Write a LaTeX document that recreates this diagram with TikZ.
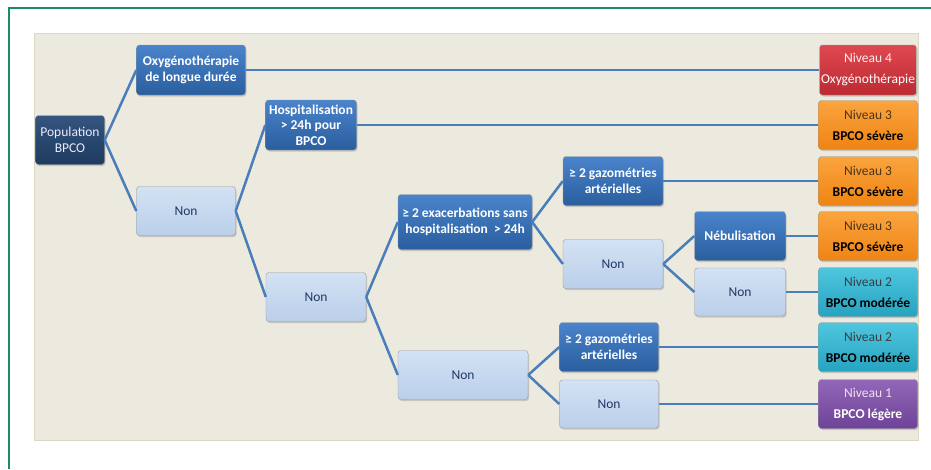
\documentclass[tikz,border=0pt]{standalone}
\usepackage{fontspec}
\setmainfont{Carlito}
\usepackage{xcolor}
\usetikzlibrary{shadows}

\definecolor{framegreen}{HTML}{1B8A6B}
\definecolor{panelbg}{HTML}{ECE9DE}
\definecolor{panelline}{HTML}{DDD8C4}
\definecolor{linkblue}{HTML}{4A7EBB}
\definecolor{nontext}{HTML}{1F3864}
\definecolor{poptop}{HTML}{33557F}
\definecolor{popbot}{HTML}{1F3B5F}
\definecolor{asktop}{HTML}{4A84CC}
\definecolor{askbot}{HTML}{2A5E9E}
\definecolor{nontop}{HTML}{D3E2F4}
\definecolor{nonbot}{HTML}{BACFEA}
\definecolor{redtop}{HTML}{E04850}
\definecolor{redbot}{HTML}{BC2A32}
\definecolor{orgtop}{HTML}{FBA43E}
\definecolor{orgbot}{HTML}{EE8414}
\definecolor{cyntop}{HTML}{4FC6DF}
\definecolor{cynbot}{HTML}{26A3C0}
\definecolor{purtop}{HTML}{9266B8}
\definecolor{purbot}{HTML}{6E4296}

\begin{document}
\begin{tikzpicture}[x=1pt, y=-1pt,
    box/.style={rectangle, rounded corners=3pt, draw=black!40, line width=0.4pt,
        align=center, font=\fontsize{13.5}{15.5}\selectfont, inner sep=1pt,
        drop shadow={opacity=0.35, shadow xshift=1pt, shadow yshift=-1.5pt}},
    popbox/.style={box, top color=poptop, bottom color=popbot,
        text=white!92!blue, minimum width=69pt, minimum height=49pt},
    askbox/.style={box, top color=asktop, bottom color=askbot,
        text=white, font=\fontsize{13.5}{15.5}\selectfont\bfseries},
    nonbox/.style={box, top color=nontop, bottom color=nonbot,
        text=nontext},
    nivbox/.style={box, minimum width=99pt, minimum height=49pt,
        font=\fontsize{13.5}{21}\selectfont},
    link/.style={linkblue, line width=2.5pt}]

    \useasboundingbox (0,0) rectangle (931,469);
    \draw[framegreen, line width=2.5pt] (9,469) -- (9,8) -- (931,8);
    \draw[panelline, fill=panelbg, line width=1pt] (34,33) rectangle (918,440);

    % racine et premier niveau
    \node[popbox] (pop) at (70,140) {Population\\BPCO};
    \node[askbox, minimum width=109pt, minimum height=50pt] (oxy) at (191,70) {Oxygénothérapie\\de longue durée};
    \node[nonbox, minimum width=99pt, minimum height=49pt] (nonA) at (186,211) {Non};
    \node[askbox, minimum width=91pt, minimum height=50pt] (hosp) at (311,125) {Hospitalisation\\> 24h pour\\BPCO};
    \node[nonbox, minimum width=100pt, minimum height=49pt] (nonB) at (316,297) {Non};
    % exacerbations
    \node[askbox, minimum width=134pt, minimum height=55pt] (exac) at (465,222) {≥ 2 exacerbations sans\\hospitalisation \ > 24h};
    \node[nonbox, minimum width=130pt, minimum height=49pt] (nonC) at (463,375) {Non};
    \node[askbox, minimum width=100pt, minimum height=49pt] (gazA) at (613,181) {≥ 2 gazométries\\artérielles};
    \node[nonbox, minimum width=100pt, minimum height=49pt] (nonD) at (613,264) {Non};
    \node[askbox, minimum width=91pt, minimum height=49pt] (nebu) at (740,236) {Nébulisation};
    \node[nonbox, minimum width=91pt, minimum height=48pt] (nonE) at (740,292) {Non};
    \node[askbox, minimum width=99pt, minimum height=49pt] (gazB) at (609,347) {≥ 2 gazométries\\artérielles};
    \node[nonbox, minimum width=99pt, minimum height=48pt] (nonF) at (609,404) {Non};
    % niveaux
    \node[nivbox, top color=redtop, bottom color=redbot, minimum width=97pt, minimum height=50pt] (niv4) at (868,70)
        {\textcolor{red!6!white}{Niveau 4}\\\textcolor{white}{Oxygénothérapie}};
    \node[nivbox, top color=orgtop, bottom color=orgbot] (niv3a) at (868,125)
        {\textcolor{brown!40!black}{Niveau 3}\\\textbf{BPCO sévère}};
    \node[nivbox, top color=orgtop, bottom color=orgbot] (niv3b) at (868,181)
        {\textcolor{brown!40!black}{Niveau 3}\\\textbf{BPCO sévère}};
    \node[nivbox, top color=orgtop, bottom color=orgbot] (niv3c) at (868,236)
        {\textcolor{brown!40!black}{Niveau 3}\\\textbf{BPCO sévère}};
    \node[nivbox, top color=cyntop, bottom color=cynbot] (niv2a) at (868,292)
        {\textcolor{cyan!15!black}{Niveau 2}\\\textbf{BPCO modérée}};
    \node[nivbox, top color=cyntop, bottom color=cynbot] (niv2b) at (868,347)
        {\textcolor{cyan!15!black}{Niveau 2}\\\textbf{BPCO modérée}};
    \node[nivbox, top color=purtop, bottom color=purbot, text=white] (niv1) at (868,404)
        {\textcolor{violet!12!white}{Niveau 1}\\\textbf{BPCO légère}};

    % liens
    \draw[link] (pop.east) -- (oxy.west);
    \draw[link] (pop.east) -- (nonA.west);
    \draw[link] (oxy.east) -- (niv4.west);
    \draw[link] (nonA.east) -- (hosp.west);
    \draw[link] (nonA.east) -- (nonB.west);
    \draw[link] (hosp.east) -- (niv3a.west);
    \draw[link] (nonB.east) -- (exac.west);
    \draw[link] (nonB.east) -- (nonC.west);
    \draw[link] (exac.east) -- (gazA.west);
    \draw[link] (exac.east) -- (nonD.west);
    \draw[link] (gazA.east) -- (niv3b.west);
    \draw[link] (nonD.east) -- (nebu.west);
    \draw[link] (nonD.east) -- (nonE.west);
    \draw[link] (nebu.east) -- (niv3c.west);
    \draw[link] (nonE.east) -- (niv2a.west);
    \draw[link] (nonC.east) -- (gazB.west);
    \draw[link] (nonC.east) -- (nonF.west);
    \draw[link] (gazB.east) -- (niv2b.west);
    \draw[link] (nonF.east) -- (niv1.west);
\end{tikzpicture}
\end{document}
